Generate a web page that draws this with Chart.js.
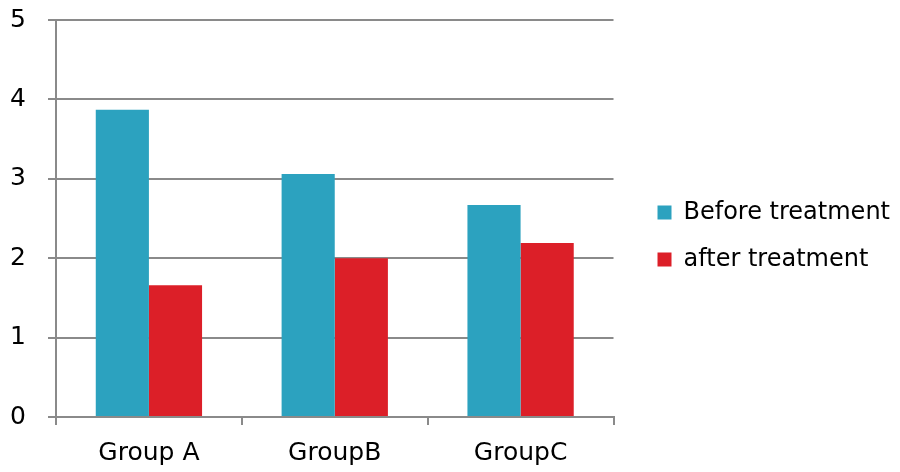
<!DOCTYPE html>
<html>
<head>
<meta charset="utf-8">
<script src="https://cdn.jsdelivr.net/npm/chart.js@4/dist/chart.umd.min.js"></script>
<style>
  html, body { margin: 0; padding: 0; background: #ffffff; }
  #wrap { width: 900px; height: 472px; position: relative; }
</style>
</head>
<body>
<div id="wrap"><canvas id="chart"></canvas></div>
<script>
// Categories and series values
const groups = ['Group A', 'GroupB', 'GroupC'];
const beforeTreatment = [3.87, 3.06, 2.67];
const afterTreatment = [1.66, 2.0, 2.19];
const seriesNames = ['Before treatment', 'after treatment'];
const yTicks = [0, 1, 2, 3, 4, 5];

const axisGray = '#8a8a8a';
const fontFamily = '"DejaVu Sans", Verdana, sans-serif';
const tickFontSize = 25;
const legendFontSize = 24;

// an empty axis used only to reserve space beside the plot
const spacer = (position, size) => ({
  type: 'linear',
  position,
  display: true,
  grid: { display: false, drawTicks: false },
  border: { display: false },
  ticks: { display: false },
  afterFit: (scale) => {
    if (scale.isHorizontal()) scale.height = size; else scale.width = size;
  }
});

new Chart(document.getElementById('chart'), {
  type: 'bar',
  data: {
    labels: groups,
    datasets: [
      { label: seriesNames[0], data: beforeTreatment, backgroundColor: '#2ca2bf', borderWidth: 0 },
      { label: seriesNames[1], data: afterTreatment, backgroundColor: '#dc1f28', borderWidth: 0 }
    ]
  },
  options: {
    responsive: true,
    maintainAspectRatio: false,
    animation: false,
    layout: { padding: 0 },
    datasets: { bar: { categoryPercentage: 0.572, barPercentage: 1.0 } },
    plugins: {
      tooltip: { enabled: false },
      legend: {
        position: 'right',
        align: 'center',
        maxWidth: 300,
        labels: {
          boxWidth: 14,
          boxHeight: 14,
          padding: 23,
          color: '#000000',
          font: { family: fontFamily, size: legendFontSize }
        }
      }
    },
    scales: {
      x: {
        afterFit: (scale) => { scale.height = 55; },
        grid: {
          offset: true,
          drawOnChartArea: false,
          drawTicks: true,
          tickLength: 8,
          color: axisGray,
          lineWidth: 2
        },
        border: { display: true, color: axisGray, width: 2 },
        ticks: { color: '#000000', padding: 13, font: { family: fontFamily, size: tickFontSize } }
      },
      y: {
        min: yTicks[0],
        max: yTicks[yTicks.length - 1],
        afterBuildTicks: (scale) => { scale.ticks = yTicks.map(v => ({ value: v })); },
        afterFit: (scale) => {
          scale.width = 56;
          // labels may overhang the plot; the spacer above leaves room
          scale.paddingTop = 0;
          scale.paddingBottom = 0;
        },
        grid: { color: axisGray, lineWidth: 2, tickLength: 8, drawTicks: true },
        border: { display: true, color: axisGray, width: 2 },
        ticks: { color: '#000000', padding: 22, font: { family: fontFamily, size: tickFontSize } }
      },
      topSpace: spacer('top', 20),
      gap: spacer('right', 21)
    }
  }
});
</script>
</body>
</html>
